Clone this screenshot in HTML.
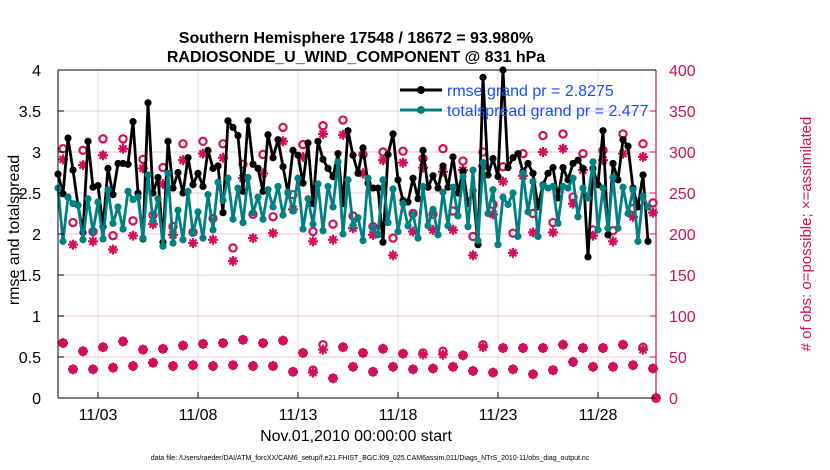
<!DOCTYPE html>
<html><head><meta charset="utf-8"><style>
body{margin:0;background:#fff;}
svg{display:block;font-family:"Liberation Sans",sans-serif;}
</style></head><body>
<svg id="chart" width="830" height="470" viewBox="0 0 830 470">
<g id="grid"></g>
<g id="marks"></g>
<g id="axes"></g>
<text x="356" y="43" text-anchor="middle" font-size="16" font-weight="bold">Southern Hemisphere 17548 / 18672 = 93.980%</text>
<text x="356" y="62" text-anchor="middle" font-size="16" font-weight="bold">RADIOSONDE_U_WIND_COMPONENT @ 831 hPa</text>
<text x="356" y="441" text-anchor="middle" font-size="16">Nov.01,2010 00:00:00 start</text>
<text transform="translate(19,230) rotate(-90)" text-anchor="middle" font-size="16">rmse and totalspread</text>
<text transform="translate(811,234) rotate(-90)" text-anchor="middle" font-size="15" fill="#d0105a"># of obs: o=possible; ×=assimilated</text>
<text x="370" y="460" text-anchor="middle" font-size="7">data file: /Users/raeder/DAI/ATM_forcXX/CAM6_setup/f.e21.FHIST_BGC.f09_025.CAM6assim.011/Diags_NTrS_2010-11/obs_diag_output.nc</text>
<g>
<g>
<line x1="400" y1="90" x2="442" y2="90" stroke="#000" stroke-width="3"/><circle cx="421" cy="90" r="4" fill="#000"/>
<text x="447" y="96" font-size="16" fill="#1a4dff">rmse grand pr = 2.8275</text></g>
<g>
<line x1="400" y1="110" x2="442" y2="110" stroke="#008080" stroke-width="3"/><circle cx="421" cy="110" r="4" fill="#008080"/>
<text x="447" y="116" font-size="16" fill="#1a4dff">totalspread grand pr = 2.477</text></g>
</g>
</svg>
<script>
const rmse=[2.73,2.49,3.17,2.78,2.35,2.02,3.13,2.57,2.59,2.09,2.80,2.48,2.86,2.86,2.85,3.37,2.50,1.94,3.60,2.50,2.69,1.90,3.13,2.56,2.75,2.50,2.93,2.60,2.74,2.58,3.02,
2.80,2.83,2.26,3.38,3.30,3.20,2.52,3.38,2.85,2.80,2.52,3.21,2.93,3.15,2.82,2.50,3.02,2.96,2.62,3.11,2.37,3.13,2.91,2.80,2.70,2.98,2.37,3.26,2.96,2.74,
3.05,2.62,2.56,2.56,1.90,2.97,3.22,2.66,2.41,2.39,2.68,2.43,3.02,2.57,2.71,2.56,2.83,2.57,2.94,2.50,2.77,2.37,2.53,1.87,3.91,2.72,2.92,2.70,4.00,
2.81,2.93,2.98,2.76,2.86,2.74,2.33,2.60,2.74,2.81,2.44,2.81,2.66,2.86,2.90,2.80,1.72,2.80,2.60,3.26,1.99,2.86,2.66,3.15,3.07,2.56,2.33,2.72,1.91];
const spread=[2.56,1.91,2.45,2.37,2.35,1.93,2.43,2.03,2.39,1.94,2.54,2.13,2.33,2.06,2.52,2.42,2.45,1.95,2.72,2.16,2.43,1.85,2.74,1.89,2.29,1.93,2.52,2.01,2.27,1.95,2.48,
2.05,2.63,2.41,2.68,2.18,2.56,2.14,2.69,2.26,2.45,2.18,2.54,2.33,2.58,2.23,2.51,2.28,2.68,2.06,2.43,2.12,2.61,2.04,2.58,2.33,2.88,2.00,2.66,2.10,2.20,
1.92,2.68,2.07,1.99,2.66,2.14,2.55,2.03,2.37,2.10,2.24,1.95,2.58,2.10,2.30,1.99,2.51,2.10,2.57,2.22,2.70,2.09,2.78,1.92,2.87,2.25,2.54,1.87,2.45,2.36,
2.50,1.97,2.74,2.27,2.64,1.97,2.59,2.56,2.58,2.13,2.58,2.56,2.68,2.21,2.56,2.44,2.88,2.05,2.56,2.07,2.69,2.07,2.57,2.25,2.54,1.91,2.46,2.33];
const possibleUpper=[304,214,302,203,316,198,316,216,291,223,281,209,310,202,313,219,310,183,285,224,297,221,330,248,309,203,332,212,339,222,297,209,300,195,301,225,292,224,304,228,289,197,300,236,282,201,298,225,320,214,322,245,298,205,302,204,322,231,310,238];
const assimUpper=[291,187,284,191,296,181,304,198,280,212,261,199,290,189,298,193,293,167,268,195,274,201,313,230,294,191,322,193,321,207,274,199,290,174,287,203,281,205,276,205,278,174,283,224,264,177,271,202,300,202,304,237,278,198,290,191,298,221,294,226];
const assimLower=[67,35,57,35,62,37,69,39,59,43,60,39,64,40,66,39,67,40,71,39,67,39,70,32,55,31,59,24,62,38,55,32,60,38,54,35,53,36,53,38,52,33,62,31,61,35,61,29,61,34,65,44,61,38,61,38,65,40,59,36];
const possibleLower=[67,35,57,35,62,37,69,39,59,43,60,39,64,40,66,39,67,40,71,39,67,39,70,32,55,34,65,24,62,38,55,32,60,38,54,35,55,36,57,38,52,33,65,31,61,35,61,29,61,34,65,44,61,38,61,38,65,40,62,36];
const xTickDays=[2,7,12,17,22,27];
const xTickLabels=["11/03","11/08","11/13","11/18","11/23","11/28"];
const yTicks=[0,0.5,1,1.5,2,2.5,3,3.5,4];
const yTickLabels=["0","0.5","1","1.5","2","2.5","3","3.5","4"];
const rTicks=[0,50,100,150,200,250,300,350,400];

const NS="http://www.w3.org/2000/svg";
const X0=58,X1=656,Y0=398,Y1=70;
const xs=d=>X0+d*(X1-X0)/29.9;
const yl=v=>Y0-v*(Y0-Y1)/4;
const yr=v=>Y0-v*(Y0-Y1)/400;
const PINK="#d0105a";
function mk(tag,attrs,parent){const e=document.createElementNS(NS,tag);for(const k in attrs)e.setAttribute(k,attrs[k]);parent.appendChild(e);return e;}
const grid=document.getElementById('grid'),marks=document.getElementById('marks'),axes=document.getElementById('axes');
yTicks.forEach((t,i)=>{if(i>0&&i<yTicks.length-1){const g=mk('line',{x1:X0,x2:X1,y1:yl(t),y2:yl(t),stroke:'#f4c6d6','stroke-width':1},grid);

}});
xTickDays.forEach((d,i)=>{const g=mk('line',{x1:xs(d),x2:xs(d),y1:Y1,y2:Y0,stroke:'#dcdcdc','stroke-width':1},grid);


const t=mk('text',{x:xs(d),y:Y0+22,'text-anchor':'middle','font-size':16},axes);t.textContent=xTickLabels[i];


mk('line',{x1:xs(d),x2:xs(d),y1:Y0,y2:Y0-6,stroke:'#000'},axes);});
yTicks.forEach((v,i)=>{const t=mk('text',{x:X0-17,y:yl(v)+6,'text-anchor':'end','font-size':16},axes);t.textContent=yTickLabels[i];


mk('line',{x1:X0,x2:X0+6,y1:yl(v),y2:yl(v),stroke:'#000'},axes);});
rTicks.forEach(v=>{const t=mk('text',{x:X1+13,y:yr(v)+6,'font-size':16,fill:PINK},axes);t.textContent=String(v);


mk('line',{x1:X1,x2:X1-6,y1:yr(v),y2:yr(v),stroke:PINK},axes);});
mk('line',{x1:X0,x2:X1,y1:Y1,y2:Y1,stroke:'#000'},axes);
mk('line',{x1:X0,x2:X1,y1:Y0,y2:Y0,stroke:'#000'},axes);
mk('line',{x1:X0,x2:X0,y1:Y1,y2:Y0,stroke:'#000'},axes);
mk('line',{x1:X1,x2:X1,y1:Y1,y2:Y0,stroke:PINK,'stroke-width':1.2},axes);

function star(cx,cy,parent,name){const g=mk('g',{stroke:PINK,'stroke-width':2.2},parent);


const r=5;[[0,1],[1,0],[0.7,0.7],[0.7,-0.7]].forEach(([a,b])=>mk('line',{x1:cx-a*r,y1:cy-b*r,x2:cx+a*r,y2:cy+b*r},g));}
function ring(cx,cy,parent,name){const c=mk('circle',{cx:cx,cy:cy,r:3.6,fill:'none',stroke:PINK,'stroke-width':2.2},parent);

}
const pd=i=>0.25+0.5*i;
possibleUpper.forEach((v,i)=>ring(xs(pd(i)),yr(v),marks,'possible-obs-marker'));
assimUpper.forEach((v,i)=>star(xs(pd(i)),yr(v),marks,'assimilated-obs-marker'));
possibleLower.forEach((v,i)=>ring(xs(pd(i)),yr(v),marks,'possible-obs-marker-lower'));
assimLower.forEach((v,i)=>star(xs(pd(i)),yr(v),marks,'assimilated-obs-marker-lower'));
ring(xs(29.9),yr(0),marks,'possible-obs-zero');
star(xs(29.9),yr(0),marks,'assimilated-obs-zero');

function series(vals,color,name){const g=mk('g',{},marks);


const pts=vals.map((v,i)=>xs(i*0.25).toFixed(1)+','+yl(v).toFixed(1)).join(' ');
mk('polyline',{points:pts,fill:'none',stroke:color,'stroke-width':2.8,'stroke-linejoin':'round'},g);
vals.forEach((v,i)=>{const c=mk('circle',{cx:xs(i*0.25),cy:yl(v),r:3.6,fill:color},g);

});}
series(rmse,'#000','rmse-series');
series(spread,'#008080','totalspread-series');
</script>
</body></html>
